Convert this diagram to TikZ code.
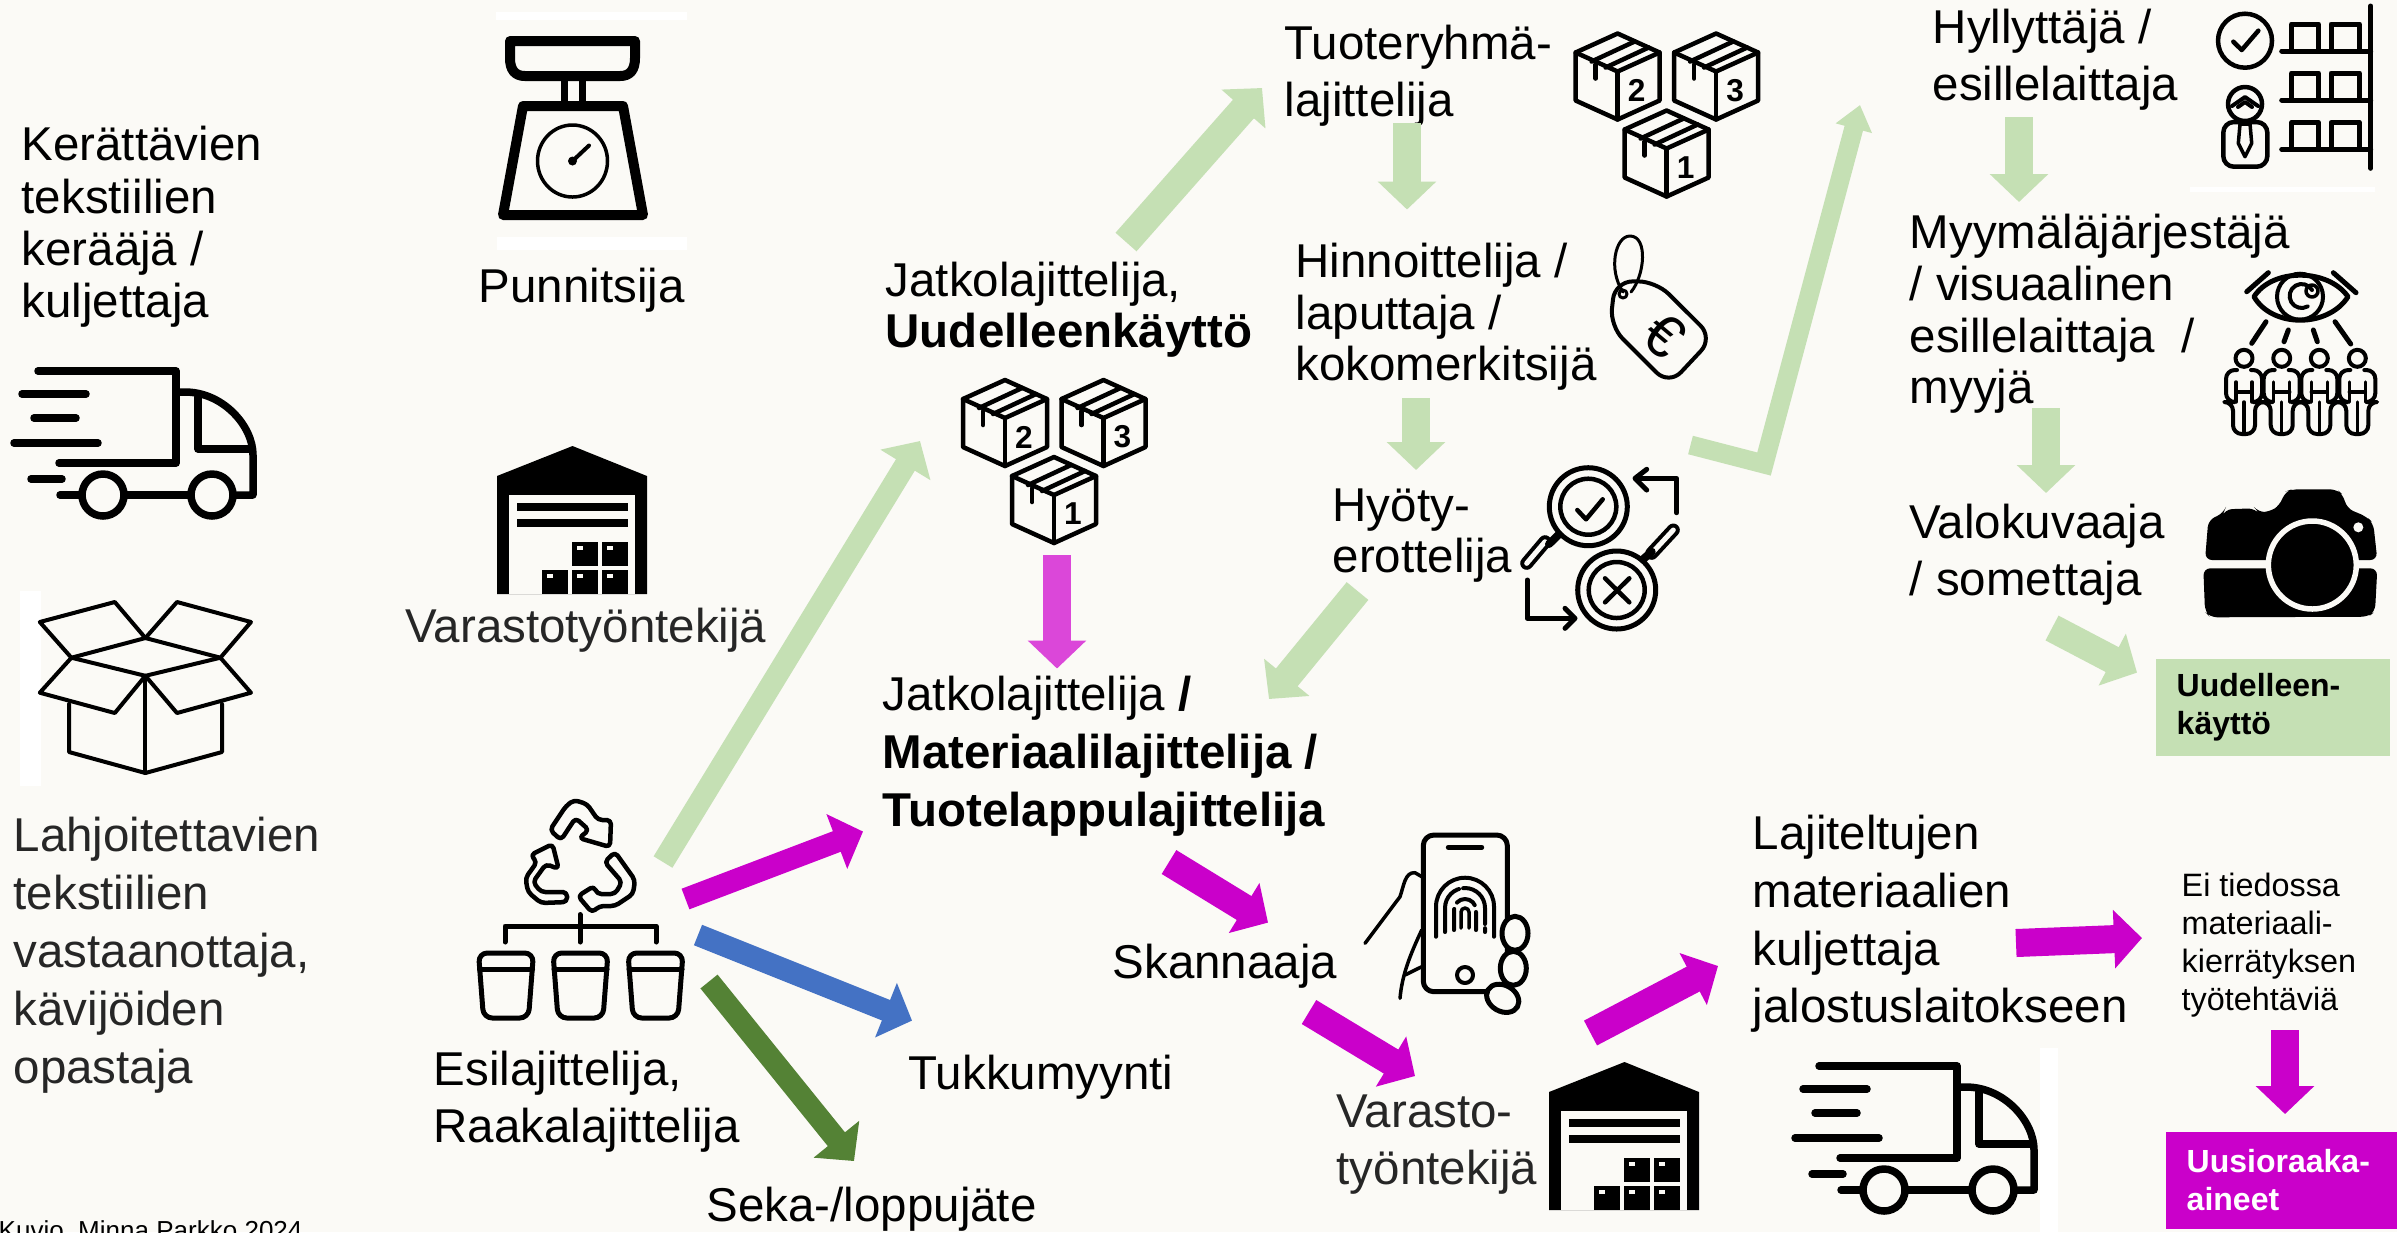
\documentclass[tikz,border=0pt]{standalone}
\usepackage{fontspec}
\setmainfont{Liberation Sans}
\usetikzlibrary{shapes, positioning, arrows.meta}
\definecolor{paper}{HTML}{FBFAF6}
\definecolor{palegreen}{HTML}{C5E0B4}
\definecolor{magenta1}{HTML}{CA00CA}
\definecolor{magenta2}{HTML}{DB47D9}
\definecolor{blue1}{HTML}{4472C4}
\definecolor{green1}{HTML}{548235}
\definecolor{darktext}{HTML}{262626}
\newcommand{\rl}{\rule{0pt}{12pt}}
\tikzset{
    role/.style={anchor=north west, inner sep=0pt, yshift=12pt, align=left, font=\fontsize{13.5}{#1}\selectfont},
    role/.default=16.2,
    smallrole/.style={anchor=north west, inner sep=0pt, yshift=12pt, align=left, font=\fontsize{9.2}{10.8}\selectfont},
    resultbox/.style={anchor=north west, fill=#1, inner xsep=.21cm, inner ysep=0pt, text width=1.92cm, minimum height=.97cm, align=left, font=\fontsize{9.1}{10.8}\bfseries\selectfont},
    flow/.style={draw=#1, line width=.28cm, -{Triangle[length=.28cm,width=.57cm]}},
    ink/.style={draw=black, line width=#1*.01cm, line join=round, line cap=round},
    ink/.default=5,
    truck/.pic={
        \draw[ink=7.5] (0,0) -- (138,0) -- (138,92) -- (21,92);
        \draw[ink=7.5] (-16,23) -- (48,23);
        \draw[ink=7.5] (-4,47) -- (38,47);
        \draw[ink=7.5] (-24,72) -- (60,72);
        \draw[ink=7.5] (-7,108) -- (24,108);
        \draw[ink=7.5] (22,124) -- (44,124);
        \draw[ink=7.5] (138,21) -- (147,21) .. controls (185,21) and (215,55) .. (215,84) -- (215,124) -- (195,124);
        \draw[ink=7.5] (160,26) -- (160,78) -- (212,78);
        \draw[ink=7.5] (65,124) circle[radius=21];
        \draw[ink=7.5] (174,124) circle[radius=21];
        \draw[ink=7.5] (86,124) -- (153,124);
    },
    warehouse/.pic={
        \fill[black] (0,30) -- (75.5,0) -- (150,30) -- (150,148) -- (0,148) -- cycle;
        \fill[paper] (12,49) rectangle (138,148);
        \fill[black] (20,57) rectangle (131,65);
        \fill[black] (20,73) rectangle (131,81);
        \foreach \bx/\by in {75/96, 105/96, 45/124, 75/124, 105/124} {
            \fill[black] (\bx,\by) rectangle ++(26,24);
            \fill[paper] (\bx+5,\by+4) rectangle ++(6,4);
        }
    },
    boxes/.pic={
        \foreach \bx/\by/\num in {0/0/2, 98.5/0/3, 49/77/1} {
            \begin{scope}[shift={(\bx,\by)}]
                \draw[ink=4.5] (0,-38) -- (42,-19) -- (42,29) -- (0,48) -- (-42,29) -- (-42,-19) -- cycle;
                \draw[ink=4.5] (-42,-19) -- (0,0) -- (42,-19);
                \draw[ink=4.5] (0,0) -- (0,48);
                \draw[ink=4.5] (-26,-10) -- (17,-30);
                \draw[ink=4.5] (-12,-4) -- (31,-24);
                \draw[ink=4.5] (-22,-7) -- (-22,7);
                \node[inner sep=0pt, font=\fontsize{9}{10}\bfseries\selectfont] (num\num) at (19,19) {\num};
            \end{scope}
        }
    }
}
\begin{document}
\begin{tikzpicture}[x=.01cm, y=-.01cm]
    \useasboundingbox (0,0) rectangle (2397,1232);
    \fill[paper] (0,0) rectangle (2397,1232);
    \fill[white] (496,12) rectangle (687,20);
    \fill[white] (497,237) rectangle (687,250);
    \fill[white] (20,591) rectangle (41,786);
    \fill[white] (2040,1048) rectangle (2058,1232);
    \fill[white] (2190,187) rectangle (2375,192);

    \node[role=14.9] (keraaja) at (21,160) {\rl Kerättävien\\tekstiilien\\kerääjä /\\kuljettaja};
    \node[role] (punnitsija) at (478,302) {\rl Punnitsija};
    \node[role, text=darktext] (varasto) at (405,641.5) {\rl Varastotyöntekijä};
    \node[role=16.5, text=darktext] (lahjoitus) at (13,851) {\rl Lahjoitettavien\\tekstiilien\\vastaanottaja,\\kävijöiden\\opastaja};
    \node[role] (esilaj) at (433,1085) {\rl Esilajittelija,\\Raakalajittelija};
    \node[anchor=base west, inner sep=0pt, font=\fontsize{7.4}{9}\selectfont] (kuvio) at (-2,1239) {Kuvio, Minna Parkko 2024};
    \node[role=14.5] (jatko) at (885,296) {\rl Jatkolajittelija,\\\textbf{Uudelleenkäyttö}};
    \node[role] (tuoteryhma) at (1284,58.5) {\rl Tuoteryhmä-\\lajittelija};
    \node[role=14.6] (hinnoittelija) at (1295,277) {\rl Hinnoittelija /\\laputtaja /\\kokomerkitsijä};
    \node[role=14.5] (hyoty) at (1332,521) {\rl Hyöty-\\erottelija};
    \node[role=16.5] (matlaj) at (882,710) {\rl Jatkolajittelija \textbf{/}\\\textbf{Materiaalilajittelija /}\\\textbf{Tuotelappulajittelija}};
    \node[role] (skannaaja) at (1112,978) {\rl Skannaaja};
    \node[role] (tukku) at (908,1089) {\rl Tukkumyynti};
    \node[role] (seka) at (706,1221) {\rl Seka-/loppujäte};
    \node[role, text=darktext] (varasto2) at (1336,1127) {\rl Varasto-\\työntekijä};
    \node[role] (hyllyttaja) at (1932,43) {\rl Hyllyttäjä /\\esillelaittaja};
    \node[role=14.7] (myymala) at (1909,248) {\rl Myymäläjärjestäjä\\/ visuaalinen\\esillelaittaja\ \ /\\myyjä};
    \node[role] (valokuvaaja) at (1909,537.5) {\rl Valokuvaaja\\/ somettaja};
    \node[role=16.4] (kuljettaja) at (1752,849) {\rl Lajiteltujen\\materiaalien\\kuljettaja\\jalostuslaitokseen};
    \node[smallrole] (eitiedossa) at (2181,896) {\rl Ei tiedossa\\materiaali-\\kierrätyksen\\työtehtäviä};
    \node[resultbox=palegreen] (uudelleen) at (2155,658) {Uudelleen-\\käyttö};
    \node[resultbox=magenta1, text=white, text width=1.89cm] (uusio) at (2165,1131) {Uusioraaka-\\aineet};

    \pic (truckA) at (38,371) {truck};
    \pic (truckB) at (1819,1066) {truck};
    \pic (halliA) at (497,446) {warehouse};
    \pic (halliB) at (1549,1062) {warehouse};
    \pic (boxesA) at (1005,418) {boxes};
    \pic (boxesB) at (1617.6,71.5) {boxes};

    % vaaka
    \draw[ink=10] (510,41) -- (635,41) -- (635,58) .. controls (635,70) and (630,76) .. (620,76) -- (525,76) .. controls (515,76) and (510,70) .. (510,58) -- cycle;
    \draw[ink=7] (564,81) -- (564,103);
    \draw[ink=7] (582,81) -- (582,103);
    \draw[ink=10] (523,106) -- (623,106) -- (643,215) -- (503,215) -- cycle;
    \draw[ink=3.5] (572.5,161) ellipse[x radius=35, y radius=36];
    \draw[ink=4] (572.5,161) -- (589,145.5);
    \fill[black] (572.5,161) circle[radius=4.5];

    % avoin laatikko
    \draw[ink=4] (145.4,638) -- (71.4,657.7) -- (39.8,622) -- (114.8,602) -- cycle;
    \draw[ink=4] (145.4,638) -- (220.4,657.7) -- (251,622) -- (177,602) -- cycle;
    \draw[ink=4] (71.4,657.7) -- (145.4,675.8) -- (114.8,713) -- (39.8,692.7) -- cycle;
    \draw[ink=4] (220.4,657.7) -- (145.4,675.8) -- (177,713) -- (251,692.7) -- cycle;
    \draw[ink=4] (69,704) -- (69,752) -- (145.4,773) -- (222,752) -- (222,704);
    \draw[ink=4] (145.4,675.8) -- (145.4,773);

    % kierratys
    \draw[ink=4.5, rounded corners=1.2pt] (550,830) -- (566,806) -- (574,800) -- (587,804) -- (598,820) -- (611,820) -- (610,847) -- (579,838) -- (589,830) -- (575.5,818) -- (561,840) -- cycle;
    \draw[ink=4.5, rounded corners=1.2pt] (552.5,844) -- (558.7,869) -- (546,864) -- (533,882) -- (541,892) -- (567,892) -- (567,902) -- (541,903) -- (528,892) -- (525.5,878) -- (537,862) -- (530.6,855) -- cycle;
    \draw[ink=4.5, rounded corners=1.2pt] (615,852) -- (635,880) -- (633,894) -- (615,906) -- (599.5,906) -- (592,912.5) -- (578,896) -- (594,886) -- (597,894) -- (615,894) -- (622,882) -- (604.6,862) -- cycle;
    \draw[ink=5] (505,942) -- (505,926) -- (656,926) -- (656,942);
    \draw[ink=5] (580,914.5) -- (580,942);
    \foreach \cx in {475.5,550,625} {
        \draw[ink=5, rounded corners=2.5pt] (\cx+3,953) -- (\cx+58,953) -- (\cx+53,1018) -- (\cx+8,1018) -- cycle;
        \draw[ink=5] (\cx+4,969) -- (\cx+57,969);
    }

    % hintalappu
    \draw[ink=4, rounded corners=5pt] (1615,281.4) -- (1656,281.4) -- (1713,338) -- (1669,385) -- (1610,326) -- cycle;
    \draw[ink=3] (1623,294) circle[radius=4];
    \draw[ink=3] (1623,292) .. controls (1608,270) and (1615,236) .. (1630,236) .. controls (1648,236) and (1645,275) .. (1631,292);
    \node[inner sep=0pt, rotate=-40, font=\fontsize{17}{17}\selectfont] (euro) at (1664,335) {€};

    % suurennuslasit
    \foreach \lx/\ly in {1588.3/506.7, 1616.7/590} {
        \draw[ink=5] (\lx,\ly) circle[radius=39];
        \draw[ink=4.5] (\lx,\ly) circle[radius=28];
    }
    \draw[ink=4.5] (1577.3,510) -- (1586,519.3) -- (1602.7,499.3);
    \draw[ink=4.5] (1605,578.3) -- (1629.3,602.3);
    \draw[ink=4.5] (1629.3,578.3) -- (1605,602.3);
    \foreach \ha/\hb/\na/\nb in {1545/541.7/1526.7/563.3, 1651.7/553.3/1673.3/530} {
        \draw[line width=.13cm, line cap=round] (\ha,\hb) -- (\na,\nb);
        \draw[line width=.05cm, line cap=round, paper] (\ha,\hb) -- (\na,\nb);
    }
    \draw[ink=8] (1558.3,535) -- (1549,544);
    \draw[ink=8] (1651.7,551.7) -- (1643,559.3);
    \draw[ink=5] (1676.7,512.7) -- (1676.7,478.3) -- (1636.7,478.3);
    \draw[ink=5] (1646.7,469.3) -- (1635,478.3) -- (1646.7,490);
    \draw[ink=5] (1527.3,580) -- (1527.3,618.3) -- (1573.3,618.3);
    \draw[ink=5] (1565,608.3) -- (1575,618.3) -- (1565,628.3);

    % hylly
    \draw[ink=5] (2370.7,6) -- (2370.7,168.3);
    \foreach \sy in {51,100,149.3} {
        \draw[ink=5] (2281.7,\sy) -- (2370.7,\sy);
        \draw[ink=5] (2291.7,\sy) -- (2291.7,\sy-27) -- (2318.3,\sy-27) -- (2318.3,\sy);
        \draw[ink=5] (2331,\sy) -- (2331,\sy-27) -- (2359.3,\sy-27) -- (2359.3,\sy);
    }
    \draw[ink=4.5] (2245,40.7) circle[radius=27];
    \draw[ink=4.5] (2233.3,41.7) -- (2241.7,50) -- (2258.3,30.7);
    \draw[ink=4.5] (2245,104) circle[radius=17];
    \draw[ink=4] (2232,106) -- (2245,97) -- (2258,106);
    \draw[ink=4] (2238,107) -- (2245,102) -- (2252,107);
    \draw[ink=4.5, rounded corners=3pt] (2223.3,166.7) -- (2223.3,122) -- (2267.3,122) -- (2267.3,166.7) -- cycle;
    \draw[ink=3.5] (2240,124) -- (2250,124) -- (2251.7,143.3) -- (2245,156.7) -- (2238.3,143.3) -- cycle;

    % silma ja ihmiset
    \draw[ink=5] (2254,296.7) .. controls (2272,268) and (2328,268) .. (2348,296.7) .. controls (2328,328) and (2272,328) .. (2254,296.7) -- cycle;
    \draw[ink=4] (2300,296.7) circle[radius=23];
    \draw[ink=4] (2312,290) arc[start angle=-30, end angle=-300, radius=12];
    \draw[ink=3.5] (2312,291) circle[radius=6];
    \draw[ink=5] (2246.7,291.7) -- (2268.3,272.7);
    \draw[ink=5] (2333.3,272.7) -- (2356,292.7);
    \draw[ink=5] (2266,321.7) -- (2251.7,343.3);
    \draw[ink=5] (2288.3,330) -- (2284,341.7);
    \draw[ink=5] (2313.3,330) -- (2317.3,341.7);
    \draw[ink=5] (2335,321.7) -- (2350.7,344);
    \foreach \px in {2244,2281.7,2319.3,2357.3} {
        \draw[ink=4] (\px,358.3) circle[radius=8.5];
        \draw[ink=4, rounded corners=2.5pt] (\px-7,370) -- (\px-18,370) -- (\px-18,402) -- (\px-11,402) -- (\px-11,434) -- (\px+11,434) -- (\px+11,402) -- (\px+18,402) -- (\px+18,370) -- (\px+7,370);
        \draw[ink=3.5] (\px-8,382) -- (\px-8,402);
        \draw[ink=3.5] (\px+8,382) -- (\px+8,402);
        \draw[ink=3.5] (\px-8,392) -- (\px+8,392);
        \draw[ink=3.5] (\px,402) -- (\px,434);
    }

    % kamera
    \fill[black, rounded corners=2pt] (2205,560) -- (2208.3,520) -- (2223.3,513.3) -- (2225,509.3) -- (2255,508.3) -- (2258.3,512.3) -- (2270,511.7) -- (2280,505) -- (2285,491.7) -- (2291.7,489.3) -- (2336.7,489.3) -- (2343.3,495) -- (2346.7,508.3) -- (2366.7,516.7) -- (2373.3,523.3) -- (2377.3,560) -- cycle;
    \fill[black, rounded corners=2pt] (2377.3,568.3) -- (2375,611.7) -- (2368.3,616.7) -- (2210,617.3) -- (2205,611.7) -- (2203.3,568.3) -- cycle;
    \draw[fill=black, draw=paper, line width=.055cm] (2312.3,565) circle[radius=44];
    \fill[paper] (2358.3,527.3) circle[radius=5];

    % puhelin
    \draw[ink=5, rounded corners=3pt] (1423.3,835) rectangle (1507.3,991.7);
    \draw[ink=5] (1448.3,847.3) -- (1481.7,847.3);
    \draw[ink=4] (1465,975) circle[radius=8];
    \draw[ink=4] (1436,936.7) -- (1436,906.7) arc[start angle=180, end angle=360, radius=29] -- (1494,936.7);
    \draw[ink=4, dash pattern=on 14pt off 1.2pt] (1445,932) -- (1445,908) arc[start angle=180, end angle=360, radius=20] -- (1485,932);
    \draw[ink=4, dash pattern=on 6pt off 2pt] (1454,930) -- (1454,910) arc[start angle=180, end angle=360, radius=11] -- (1476,930);
    \draw[ink=3.5] (1461,928) -- (1461,912) arc[start angle=180, end angle=360, radius=4] -- (1469,928);
    \draw[ink=3.5] (1365,943.3) -- (1400,896.7) .. controls (1404,885) and (1405,872) .. (1415,872.7) -- (1424,878);
    \draw[ink=3.5] (1400,998.3) .. controls (1402,975) and (1410,955) .. (1421.7,930);
    \draw[ink=3.5] (1405,975) -- (1421.7,966.7);
    \draw[ink=5, fill=paper] (1515,933.3) ellipse[x radius=13, y radius=17];
    \draw[ink=5, fill=paper] (1513.3,968.3) ellipse[x radius=13, y radius=17];
    \draw[ink=5, fill=paper, rotate around={-30:(1502.7,998.3)}] (1502.7,998.3) ellipse[x radius=17, y radius=13];

    \coordinate (esiA) at (663,862);
    \coordinate (jatkoIn) at (920,441);
    \coordinate (jatkoOut) at (1126,242);
    \coordinate (tuoteIn) at (1262,88);
    \coordinate (tuoteOut) at (1407,123);
    \coordinate (hinnaIn) at (1407,209.5);
    \coordinate (hinnaOut) at (1416,398);
    \coordinate (hyotyIn) at (1416,470);
    \coordinate (boxOut) at (1057,555);
    \coordinate (matIn) at (1057,668.5);
    \coordinate (hyotyOut) at (1357.5,591);
    \coordinate (matInB) at (1269,699);
    \coordinate (hyotyOutB) at (1690.5,445);
    \coordinate (polvi) at (1764,464);
    \coordinate (hyllyIn) at (1860,105);
    \coordinate (hyllyOut) at (2019,117);
    \coordinate (myymaIn) at (2019,202);
    \coordinate (myymaOut) at (2046,408);
    \coordinate (valoIn) at (2046,493);
    \coordinate (valoOut) at (2052,628);
    \coordinate (uudelleenIn) at (2137,672.6);
    \coordinate (esiB) at (685.5,899);
    \coordinate (matInC) at (863,831.5);
    \coordinate (esiC) at (698,935);
    \coordinate (tukkuIn) at (912,1020.6);
    \coordinate (esiD) at (709,981.5);
    \coordinate (sekaIn) at (854,1161);
    \coordinate (matOut) at (1169,862);
    \coordinate (skanIn) at (1268,922.6);
    \coordinate (skanOut) at (1309,1012);
    \coordinate (varastoIn) at (1415,1076);
    \coordinate (varastoOut) at (1590.5,1033);
    \coordinate (kuljIn) at (1718,966);
    \coordinate (kuljOut) at (2016,943);
    \coordinate (eiIn) at (2142,938);
    \coordinate (eiOut) at (2285,1030);
    \coordinate (uusioIn) at (2285,1114);

    \draw[flow=palegreen, line width=.22cm] (esiA) -- (jatkoIn);
    \draw[flow=palegreen] (jatkoOut) -- (tuoteIn);
    \draw[flow=palegreen] (tuoteOut) -- (hinnaIn);
    \draw[flow=palegreen] (hinnaOut) -- (hyotyIn);
    \draw[flow=magenta2] (boxOut) -- (matIn);
    \draw[flow=palegreen] (hyotyOut) -- (matInB);
    \draw[draw=palegreen, line width=.19cm, -{Triangle[length=.24cm,width=.36cm]}] (hyotyOutB) -- (polvi) -- (hyllyIn);
    \draw[flow=palegreen] (hyllyOut) -- (myymaIn);
    \draw[flow=palegreen] (myymaOut) -- (valoIn);
    \draw[flow=palegreen] (valoOut) -- (uudelleenIn);
    \draw[flow=magenta1, line width=.22cm] (esiB) -- (matInC);
    \draw[flow=blue1, line width=.22cm] (esiC) -- (tukkuIn);
    \draw[flow=green1, line width=.22cm] (esiD) -- (sekaIn);
    \draw[flow=magenta1] (matOut) -- (skanIn);
    \draw[flow=magenta1] (skanOut) -- (varastoIn);
    \draw[flow=magenta1] (varastoOut) -- (kuljIn);
    \draw[flow=magenta1] (kuljOut) -- (eiIn);
    \draw[flow=magenta1] (eiOut) -- (uusioIn);
\end{tikzpicture}
\end{document}
